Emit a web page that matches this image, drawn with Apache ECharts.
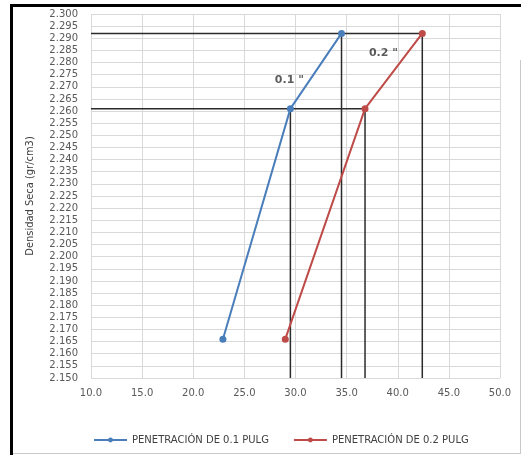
<!DOCTYPE html>
<html>
<head>
<meta charset="utf-8">
<script src="https://cdn.jsdelivr.net/npm/echarts@6/dist/echarts.min.js"></script>
<style>
  html, body { margin: 0; padding: 0; background: #fff; }
  #chart { width: 521px; height: 455px; }
</style>
</head>
<body>
<div id="chart"></div>
<script>
// Penetración (CBR) vs. densidad seca
const pen01 = [22.9, 29.5, 34.5];          // x, penetración de 0.1 pulg
const pen02 = [29.0, 36.8, 42.4];          // x, penetración de 0.2 pulg
const densidad = [2.166, 2.261, 2.292];    // y, densidad seca (gr/cm3)
const seriesNames = ['PENETRACIÓN DE 0.1 PULG', 'PENETRACIÓN DE 0.2 PULG'];
const notes = ['0.1 "', '0.2 "'];
const notePos = [[29.4, 2.2728], [38.6, 2.2840]];

const xMin = 10, xMax = 50, yMin = 2.15, yMax = 2.30;

const pts01 = pen01.map((x, i) => [x, densidad[i]]);
const pts02 = pen02.map((x, i) => [x, densidad[i]]);

// guide lines: horizontal from the axis to the 0.2" curve at the two upper densities,
// vertical from each upper point down to the x axis
const guides = [];
[1, 2].forEach(i => {
  guides.push([[xMin, densidad[i]], [pen02[i], densidad[i]]]);
  guides.push([[pen01[i], densidad[i]], [pen01[i], yMin]]);
  guides.push([[pen02[i], densidad[i]], [pen02[i], yMin]]);
});

const guideSeries = guides.map(seg => ({
  type: 'line',
  data: seg,
  symbol: 'none',
  silent: true,
  z: 1,
  lineStyle: { color: '#2b2b2b', width: 1.5 }
}));

const chart = echarts.init(document.getElementById('chart'), null, { renderer: 'canvas' });
chart.setOption({
  animation: false,
  backgroundColor: '#fff',
  grid: { left: 91, right: 21, top: 14, bottom: 77 },
  xAxis: {
    type: 'value', min: xMin, max: xMax, interval: 5,
    axisLine: { show: false }, axisTick: { show: false },
    splitLine: { lineStyle: { color: '#d9d9d9', width: 1 } },
    axisLabel: { color: '#595959', fontFamily: 'DejaVu Sans', fontSize: 10, margin: 10,
      formatter: v => v.toFixed(1) }
  },
  yAxis: {
    type: 'value', min: yMin, max: yMax, interval: 0.005,
    name: 'Densidad Seca (gr/cm3)', nameLocation: 'middle', nameGap: 55,
    nameTextStyle: { color: '#404040', fontFamily: 'DejaVu Sans Condensed', fontSize: 11 },
    axisLine: { show: false }, axisTick: { show: false },
    splitLine: { lineStyle: { color: '#d9d9d9', width: 1 } },
    axisLabel: { color: '#595959', fontFamily: 'DejaVu Sans', fontSize: 10, margin: 13,
      formatter: v => v.toFixed(3) }
  },
  legend: {
    left: 88, top: 430, itemGap: 24, itemWidth: 33, itemHeight: 6,
    data: seriesNames,
    textStyle: { color: '#404040', fontFamily: 'DejaVu Sans', fontSize: 10 }
  },
  series: guideSeries.concat([
    {
      name: seriesNames[0], type: 'line', data: pts01,
      symbol: 'circle', symbolSize: 7, z: 3,
      lineStyle: { color: '#4a7ebb', width: 2 },
      itemStyle: { color: '#4a7ebb' }
    },
    {
      name: seriesNames[1], type: 'line', data: pts02,
      symbol: 'circle', symbolSize: 7, z: 3,
      lineStyle: { color: '#be4b48', width: 2 },
      itemStyle: { color: '#be4b48' }
    },
    {
      type: 'scatter', z: 4, silent: true,
      data: notePos.map((p, i) => ({ value: p, label: { formatter: notes[i] } })),
      symbolSize: 0,
      label: { show: true, position: 'inside', color: '#333',
        fontFamily: 'DejaVu Sans', fontWeight: 'bold', fontSize: 11 }
    }
  ]),
  graphic: [
    { type: 'line', shape: { x1: 11.5, y1: 5, x2: 11.5, y2: 455 }, style: { stroke: '#000', lineWidth: 3 } },
    { type: 'line', shape: { x1: 10, y1: 5.5, x2: 521, y2: 5.5 }, style: { stroke: '#000', lineWidth: 3 } },
    { type: 'line', shape: { x1: 13, y1: 453.5, x2: 521, y2: 453.5 }, style: { stroke: '#c8c8c8', lineWidth: 1 } },
    { type: 'line', shape: { x1: 520.5, y1: 60, x2: 520.5, y2: 454 }, style: { stroke: '#c8c8c8', lineWidth: 1 } }
  ]
});
</script>
</body>
</html>
